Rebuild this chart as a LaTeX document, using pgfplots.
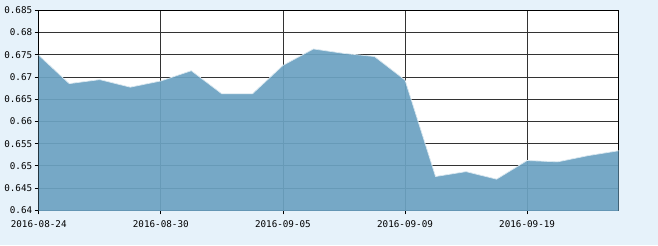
\documentclass[border=0pt]{standalone}
\usepackage{pgfplots}
\pgfplotsset{compat=1.18}
\usepackage{fontspec}
\setmonofont{DejaVu Sans Mono}
\definecolor{bgc}{RGB}{230,242,250}
\definecolor{fillc}{RGB}{108,162,194}
\definecolor{gridc}{RGB}{51,51,51}
\begin{document}
\begin{tikzpicture}[x=1bp,y=1bp]
\fill[bgc] (0,0) rectangle (658,245);
\begin{axis}[
  at={(38.7bp,34.7bp)}, anchor=south west,
  scale only axis, width=580bp, height=200bp,
  xmin=0, xmax=19, ymin=0.64, ymax=0.685,
  xtick={0,4,8,12,16},
  xticklabels={2016-08-24,2016-08-30,2016-09-05,2016-09-09,2016-09-19},
  ytick={0.64,0.645,0.65,0.655,0.66,0.665,0.67,0.675,0.68,0.685},
  yticklabel style={/pgf/number format/fixed,/pgf/number format/precision=3},
  /pgf/number format/assume math mode=true,
  tick label style={font=\fontsize{9.3}{10}\selectfont\ttfamily, text=black},
  xtick pos=bottom, ytick pos=left,
  tick align=outside, major tick length=4bp,
  tick style={black, line width=0.8pt},
  grid=major, grid style={gridc, line width=0.8pt},
  axis line style={black, line width=1.1pt},
  axis background/.style={fill=white},
  xticklabel style={yshift=-2.5bp},
  yticklabel style={xshift=1bp},
]
\addplot[draw=none, fill=fillc, fill opacity=0.93] coordinates {
(0,0.6749) (1,0.6685) (2,0.6694) (3,0.6677) (4,0.6691) (5,0.6714) (6,0.6662) (7,0.6662)
(8,0.6726) (9,0.6763) (10,0.6753) (11,0.6746) (12,0.6693) (13,0.6476) (14,0.6487) (15,0.6470)
(16,0.6512) (17,0.6509) (18,0.6523) (19,0.6534) (19,0.63) (0,0.63)} -- cycle;
\addplot[draw=white!75!fillc, line width=0.7pt] coordinates {
(0,0.6749) (1,0.6685) (2,0.6694) (3,0.6677) (4,0.6691) (5,0.6714) (6,0.6662) (7,0.6662)
(8,0.6726) (9,0.6763) (10,0.6753) (11,0.6746) (12,0.6693) (13,0.6476) (14,0.6487) (15,0.6470)
(16,0.6512) (17,0.6509) (18,0.6523) (19,0.6534)};
\end{axis}
\end{tikzpicture}
\end{document}
